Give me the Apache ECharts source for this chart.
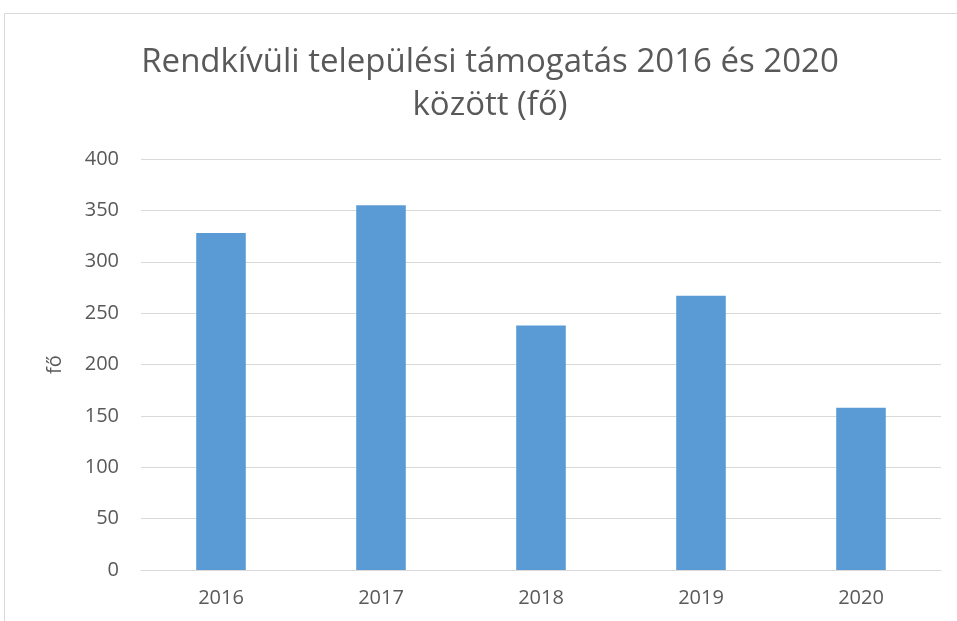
<!DOCTYPE html>
<html><head><meta charset="utf-8">
<script src="https://cdn.jsdelivr.net/npm/echarts@6/dist/echarts.min.js"></script>
<style>html,body{margin:0;padding:0;background:#fff}#c{width:957px;height:621px}</style>
</head><body><div id="c"></div>
<script>
const categories = ['2016', '2017', '2018', '2019', '2020'];
const values = [328, 355, 238, 267, 158];
const yTicks = [0, 50, 100, 150, 200, 250, 300, 350, 400];
const titleText = 'Rendkívüli települési támogatás 2016 és 2020\nközött (fő)';
const yName = 'fő';

const chart = echarts.init(document.getElementById('c'));
chart.setOption({
  animation: false,
  backgroundColor: '#fff',
  graphic: [
    {type:'rect', shape:{x:4.5, y:13.5, width:1000, height:700}, style:{fill:'none', stroke:'#d9d9d9', lineWidth:1}},
    {type:'text', x: 490, y: 41, style:{text: titleText, align:'center', verticalAlign:'top',
      fontFamily:'Open Sans', fontSize:33, lineHeight:43, fill:'#595959'}}
  ],
  grid: {left: 141, right: 16, top: 159, bottom: 51},
  xAxis: {
    type: 'category', data: categories,
    axisLine: {lineStyle: {color: '#d9d9d9', width: 1}},
    axisTick: {show: false},
    axisLabel: {color: '#595959', fontSize: 20, fontFamily: 'Open Sans', margin: 18}
  },
  yAxis: {
    type: 'value', min: yTicks[0], max: yTicks[yTicks.length-1], interval: 50,
    name: yName, nameLocation: 'middle', nameGap: 76, nameRotate: 90,
    nameTextStyle: {color: '#595959', fontSize: 20, fontFamily: 'Open Sans'},
    axisLine: {show: false}, axisTick: {show: false},
    axisLabel: {color: '#595959', fontSize: 20, fontFamily: 'Open Sans', margin: 22},
    splitLine: {lineStyle: {color: '#d9d9d9', width: 1}}
  },
  series: [{
    type: 'bar', data: values, barWidth: '31%',
    itemStyle: {color: '#5b9bd5'}
  }]
});
</script></body></html>
